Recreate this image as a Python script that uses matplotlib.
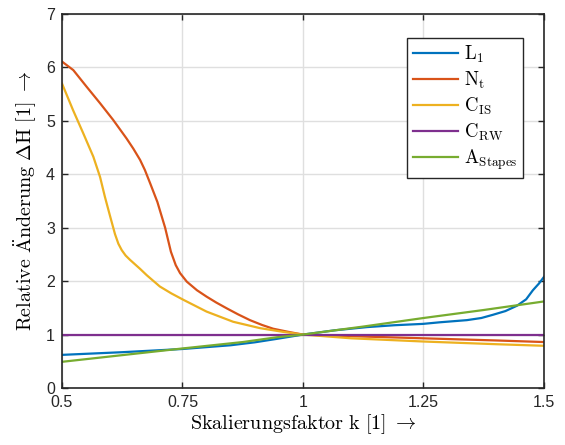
import matplotlib
matplotlib.use('Agg')
import matplotlib.pyplot as plt

# relative change of the transfer function vs. scaling factor k
k_L1 = [0.5, 0.625, 0.75, 0.85, 0.9, 0.946, 1.0, 1.066, 1.133, 1.19, 1.249, 1.284, 1.34, 1.37,
        1.394, 1.42, 1.444, 1.463, 1.477, 1.49, 1.5]
dH_L1 = [0.62, 0.67, 0.73, 0.80, 0.855, 0.92, 1.0, 1.08, 1.14, 1.175, 1.2, 1.23, 1.27, 1.31,
         1.37, 1.44, 1.54, 1.66, 1.83, 1.96, 2.08]

k_Nt = [0.5, 0.5235, 0.551, 0.579, 0.606, 0.634, 0.648, 0.662, 0.672, 0.683, 0.698, 0.714,
        0.726, 0.736, 0.745, 0.759, 0.78, 0.80, 0.82, 0.842, 0.865, 0.89, 0.915, 0.938,
        0.97, 1.0, 1.1, 1.25, 1.4, 1.5]
dH_Nt = [6.11, 5.95, 5.64, 5.33, 5.02, 4.67, 4.48, 4.27, 4.08, 3.83, 3.48, 3.0,
         2.55, 2.30, 2.15, 1.99, 1.83, 1.71, 1.60, 1.49, 1.38, 1.27, 1.18, 1.11,
         1.05, 1.0, 0.97, 0.93, 0.89, 0.86]

k_CIS = [0.5, 0.523, 0.544, 0.565, 0.579, 0.589, 0.6, 0.61, 0.617, 0.624, 0.632, 0.641, 0.662,
         0.676, 0.703, 0.727, 0.752, 0.8, 0.855, 0.911, 0.959, 1.0, 1.1, 1.25, 1.4, 1.5]
dH_CIS = [5.70, 5.20, 4.77, 4.33, 3.95, 3.58, 3.21, 2.88, 2.70, 2.58, 2.48, 2.40, 2.23,
          2.11, 1.90, 1.77, 1.65, 1.43, 1.24, 1.12, 1.05, 1.0, 0.93, 0.87, 0.82, 0.79]

k_CRW = [0.5, 1.5]
dH_CRW = [1.0, 1.0]

k_AS = [0.5, 0.75, 0.875, 0.946, 1.0, 1.125, 1.25, 1.375, 1.5]
dH_AS = [0.49, 0.74, 0.86, 0.95, 1.0, 1.15, 1.31, 1.46, 1.62]

labels = [r'$\mathrm{L_1}$', r'$\mathrm{N_t}$', r'$\mathrm{C_{IS}}$', r'$\mathrm{C_{RW}}$', r'$\mathrm{A_{Stapes}}$']
colors = ['#0072BD', '#D95319', '#EDB120', '#7E2F8E', '#77AC30']

plt.rcParams['mathtext.fontset'] = 'cm'
plt.rcParams['font.family'] = ['Liberation Sans', 'DejaVu Sans']

fig = plt.figure(figsize=(5.65, 4.45), dpi=100)
ax = fig.add_axes([0.1097, 0.1281, 0.8531, 0.8404])

series = [(k_L1, dH_L1), (k_Nt, dH_Nt), (k_CIS, dH_CIS), (k_CRW, dH_CRW), (k_AS, dH_AS)]
for (k, dh), lab, col in zip(series, labels, colors):
    ax.plot(k, dh, color=col, lw=1.6, label=lab, solid_joinstyle='round')

ax.set_xlim(0.5, 1.5)
ax.set_ylim(0, 7)
ax.set_xticks([0.5, 0.75, 1, 1.25, 1.5])
ax.set_xticklabels(['0.5', '0.75', '1', '1.25', '1.5'])
ax.set_yticks(range(8))
ax.grid(True, color='#dfdfdf', lw=1.0)
ax.set_axisbelow(True)
ax.tick_params(direction='in', top=True, right=True, length=4, width=1.0,
               colors='#262626', labelsize=11.5, pad=5)
for sp in ax.spines.values():
    sp.set_color('#262626')
    sp.set_linewidth(1.2)

ax.set_xlabel(r'$\mathrm{Skalierungsfaktor\ k\ [1]}\ \rightarrow$', fontsize=14.5, labelpad=2)
ax.set_ylabel(r'$\mathrm{Relative\ \ddot{A}nderung\ \Delta H\ [1]}\ \rightarrow$', fontsize=14.5, labelpad=5)

leg = ax.legend(loc='upper right', bbox_to_anchor=(0.9564, 0.9358), borderaxespad=0, fontsize=13.5,
                fancybox=False, framealpha=1, edgecolor='#262626', handlelength=2.4,
                borderpad=0.3, labelspacing=0.25, handletextpad=0.3)
leg.get_frame().set_linewidth(1.0)

fig.savefig('out.png', dpi=100)
